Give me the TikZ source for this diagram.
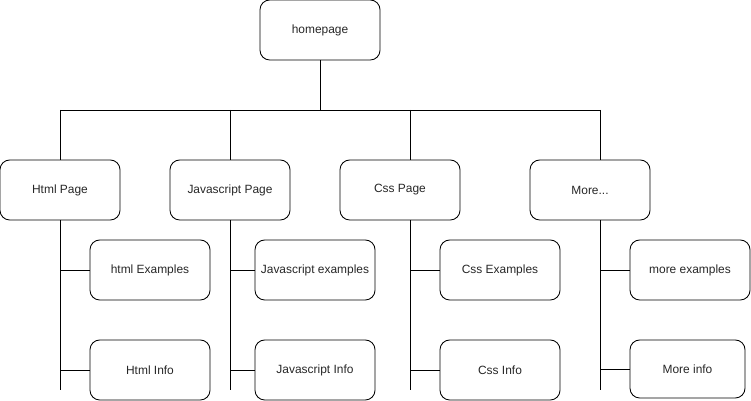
\documentclass[tikz,border=0pt]{standalone}
\usepackage{fontspec}
\setmainfont{Liberation Sans}
\usetikzlibrary{positioning}

\tikzset{page/.style={draw, rounded corners=5.5pt, minimum width=2.4cm, minimum height=1.2cm,
          inner sep=0pt, text=black!85, font=\fontsize{6.8}{8}\selectfont},
         link/.style={line width=0.5pt}}

\begin{document}
\begin{tikzpicture}[x=0.02cm, y=-0.02cm, link]
  \useasboundingbox (0,0) rectangle (751,401);

  \node[page] (home) at (320,30) {homepage};

  \node[page] (html) at (60,190) {Html Page};
  \node[page] (js)   at (230,190) {Javascript Page};
  \node[page] (css)  at (400,190) {Css Page};
  \node[page] (more) at (590,190) {More...};

  \node[page] (htmlex)   at (150,270) {html Examples};
  \node[page] (htmlinfo) at (150,370) {Html Info};
  \node[page] (jsex)     at (315,270) {Javascript examples};
  \node[page] (jsinfo)   at (315,370) {Javascript Info};
  \node[page] (cssex)    at (500,270) {Css Examples};
  \node[page] (cssinfo)  at (500,370) {Css Info};
  \node[page] (moreex)   at (690,270) {more examples};
  \node[page, minimum width=2.3cm, minimum height=1.16cm] (moreinfo) at (687.5,369) {More info};

  % bus under the homepage
  \coordinate (top) at (320,110);
  \coordinate (b1) at (60,110);
  \coordinate (b2) at (230,110);
  \coordinate (b3) at (410,110);
  \coordinate (b4) at (600,110);
  \draw (home) -- (top);
  \draw (b1) -- (b4);
  \draw (b1) -- (html);
  \draw (b2) -- (js);
  \draw (b3) -- (b3 |- css.north);
  \draw (b4) -- (b4 |- more.north);

  % lines down to the sub pages
  \coordinate (d1) at (60,390);
  \coordinate (d2) at (230,390);
  \coordinate (d3) at (410,390);
  \coordinate (d4) at (600,390);
  \draw (html) -- (d1);
  \draw (js) -- (d2);
  \draw (d3 |- css.south) -- (d3);
  \draw (d4 |- more.south) -- (d4);

  \draw (d1 |- htmlex) -- (htmlex);
  \draw (d1 |- htmlinfo) -- (htmlinfo);
  \draw (d2 |- jsex) -- (jsex);
  \draw (d2 |- jsinfo) -- (jsinfo);
  \draw (d3 |- cssex) -- (cssex);
  \draw (d3 |- cssinfo) -- (cssinfo);
  \draw (d4 |- moreex) -- (moreex);
  \draw (d4 |- moreinfo) -- (moreinfo);
\end{tikzpicture}
\end{document}
